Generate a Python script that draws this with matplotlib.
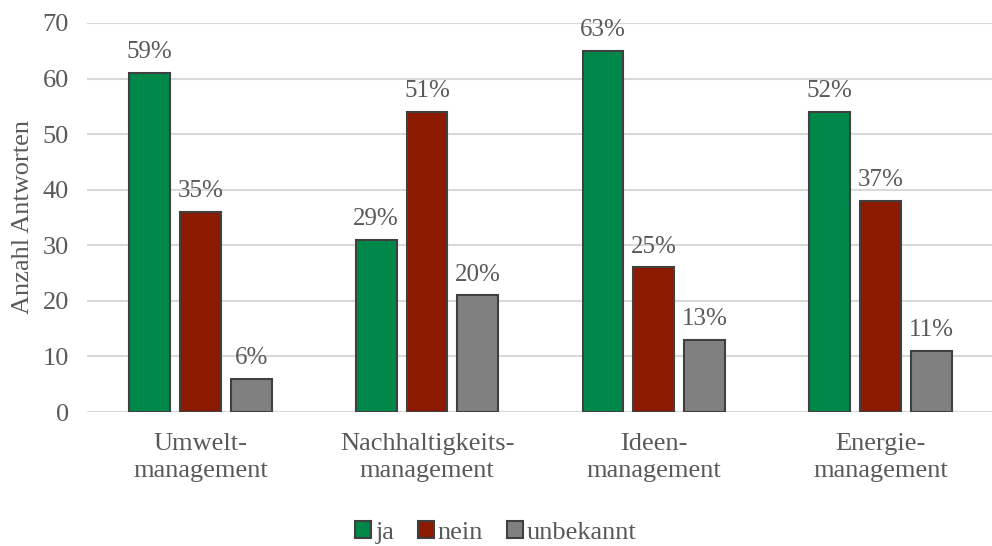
import numpy as np
import matplotlib.pyplot as plt

plt.rcParams['font.family'] = ['Liberation Serif', 'DejaVu Serif']

categories = ['Umwelt-\nmanagement', 'Nachhaltigkeits-\nmanagement',
              'Ideen-\nmanagement', 'Energie-\nmanagement']
series = ['ja', 'nein', 'unbekannt']
ja = [61, 31, 65, 54]
nein = [36, 54, 26, 38]
unbekannt = [6, 21, 13, 11]
pct_ja = ['59%', '29%', '63%', '52%']
pct_nein = ['35%', '51%', '25%', '37%']
pct_unbekannt = ['6%', '20%', '13%', '11%']

colors = ['#00884a', '#8b1a00', '#808080']
text_col = '#595959'
fs = 19

fig = plt.figure(figsize=(9.92, 5.46), dpi=100)
ax = fig.add_axes([0.0877, 0.2454, 0.914, 0.7126])

x = np.arange(len(categories))
w = 0.18
offsets = [-0.224, 0, 0.224]
for vals, pcts, off, col, name in zip([ja, nein, unbekannt],
                                      [pct_ja, pct_nein, pct_unbekannt],
                                      offsets, colors, series):
    bars = ax.bar(x + off, vals, w, color=col, edgecolor='#404040',
                  linewidth=1.5, label=name, zorder=3)
    ax.bar_label(bars, labels=pcts, padding=7, fontsize=18, color=text_col)

ax.set_xlim(-0.5, len(categories) - 0.5)
ax.set_ylim(0, 70)
ax.set_yticks(range(0, 71, 10))
ax.set_xticks(x)
ax.set_xticklabels(categories, fontsize=fs, color=text_col, linespacing=1.3)
ax.tick_params(axis='both', length=0, labelsize=fs, labelcolor=text_col)
ax.tick_params(axis='x', pad=15)
ax.tick_params(axis='y', pad=13)
ax.grid(axis='y', color='#d9d9d9', linewidth=1.5, zorder=0)
for s in ax.spines.values():
    s.set_visible(False)

ax.set_ylabel('Anzahl Antworten', fontsize=fs, color=text_col, labelpad=6)

ax.legend(loc='center', bbox_to_anchor=(0.451, -0.31), ncol=3, frameon=False,
          fontsize=fs, labelcolor=text_col, handlelength=0.6,
          handleheight=0.6, handletextpad=0.15, columnspacing=0.9)

fig.savefig('out.png', dpi=100)
